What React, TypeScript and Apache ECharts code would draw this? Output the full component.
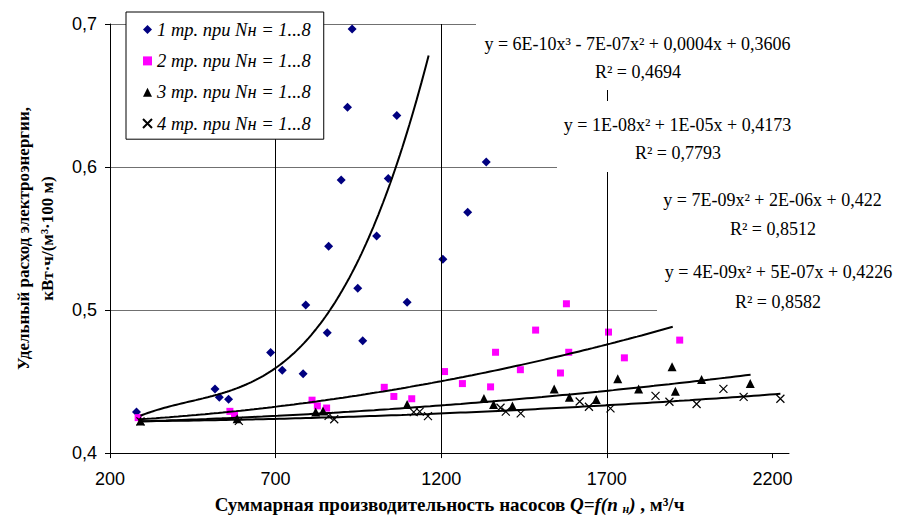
import React, { useEffect, useRef } from 'react';
import * as echarts from 'echarts';

// ---------- data ----------
const seriesNames = [
  '1 тр. при Nн = 1...8',
  '2 тр. при Nн = 1...8',
  '3 тр. при Nн = 1...8',
  '4 тр. при Nн = 1...8',
];

const s1X = [280, 517, 530, 558, 685, 720, 783, 791, 856, 860, 898, 917, 931, 948, 963, 1005, 1040, 1066, 1097, 1205, 1280, 1336];
const s1Y = [0.4287, 0.4449, 0.4391, 0.4377, 0.4703, 0.458, 0.4555, 0.5035, 0.4841, 0.5446, 0.591, 0.6418, 0.6965, 0.5153, 0.4786, 0.5518, 0.592, 0.636, 0.5054, 0.5356, 0.5684, 0.6035];

const s2X = [285, 562, 576, 810, 826, 854, 1028, 1057, 1111, 1210, 1264, 1349, 1364, 1439, 1485, 1560, 1578, 1585, 1705, 1753, 1920];
const s2Y = [0.4248, 0.4292, 0.4265, 0.437, 0.433, 0.4315, 0.446, 0.4396, 0.438, 0.457, 0.4486, 0.4463, 0.4705, 0.4583, 0.486, 0.456, 0.5044, 0.4705, 0.4846, 0.4666, 0.479];

const s3X = [292, 584, 821, 843, 1097, 1329, 1358, 1415, 1541, 1587, 1668, 1733, 1796, 1897, 1907, 1986, 2133];
const s3Y = [0.4225, 0.424, 0.4287, 0.4294, 0.434, 0.4382, 0.434, 0.4329, 0.4449, 0.4391, 0.4375, 0.452, 0.4449, 0.4604, 0.4433, 0.4514, 0.4486];

const s4X = [292, 589, 860, 877, 1117, 1135, 1160, 1379, 1395, 1440, 1618, 1646, 1711, 1847, 1889, 1971, 2052, 2113, 2224];
const s4Y = [0.4222, 0.4225, 0.426, 0.4237, 0.4287, 0.429, 0.4258, 0.4317, 0.429, 0.4278, 0.4361, 0.4324, 0.4313, 0.44, 0.4359, 0.4343, 0.4449, 0.4393, 0.438];

// trendline polynomial coefficients (ascending powers of x) and x-ranges
const trend1Coef = [0.36527, 3.7218e-4, -7.1919e-7, 5.4261e-10];
const trend2Coef = [0.4206, 5.98e-6, 1.562e-8];
const trend3Coef = [0.4207, 3.52e-6, 5.842e-9];
const trend4Coef = [0.4218, 4.08e-7, 3.788e-9];
const trendRanges = [[292, 1162], [285, 1899], [292, 2134], [292, 2224]];

const trendEquations = [
  'y = 6E-10x³ - 7E-07x² + 0,0004x + 0,3606',
  'y = 1E-08x² + 1E-05x + 0,4173',
  'y = 7E-09x² + 2E-06x + 0,422',
  'y = 4E-09x² + 5E-07x + 0,4226',
];
const trendR2 = ['R² = 0,4694', 'R² = 0,7793', 'R² = 0,8512', 'R² = 0,8582'];

const xTicks = [200, 700, 1200, 1700, 2200];
const xGridLines = [700, 1200, 1700];

// ---------- helpers ----------
const zip = (xs: number[], ys: number[]) => xs.map((x, i) => [x, ys[i]]);
const poly = (c: number[], x: number) => c.reduce((s, k, i) => s + k * Math.pow(x, i), 0);
const trendPoints = (c: number[], r: number[]) => {
  const pts: number[][] = [];
  const n = 120;
  for (let i = 0; i <= n; i++) {
    const x = r[0] + ((r[1] - r[0]) * i) / n;
    pts.push([x, poly(c, x)]);
  }
  return pts;
};

const SERIF = '"Liberation Serif", "Times New Roman", serif';
const SANS = '"Liberation Sans", Arial, sans-serif';

const labelBoxes = [
  { x: 476, y: 18, w: 326, h: 72, c1: 637.5, y1: 44, c2: 638, y2: 72 },
  { x: 557, y: 101, w: 242, h: 71, c1: 677.5, y1: 125, c2: 678, y2: 153 },
  { x: 657, y: 179, w: 236, h: 68, c1: 772.5, y1: 200, c2: 773, y2: 229 },
  { x: 657, y: 251, w: 242, h: 70, c1: 778.5, y1: 272, c2: 778, y2: 302 },
];

export default function App() {
  const ref = useRef<HTMLDivElement>(null);

  useEffect(() => {
    document.body.style.margin = '0';
    if (!ref.current) return;
    const chart = echarts.init(ref.current, undefined, { renderer: 'svg' });

    const coefs = [trend1Coef, trend2Coef, trend3Coef, trend4Coef];

    const graphic: any[] = [];
    labelBoxes.forEach((b, i) => {
      graphic.push({
        type: 'group',
        z: 100,
        children: [
          { type: 'rect', z: 100, shape: { x: b.x, y: b.y, width: b.w, height: b.h }, style: { fill: '#fff' } },
          {
            type: 'text', z: 101, x: b.c1, y: b.y1,
            style: { text: trendEquations[i], font: `18px ${SERIF}`, fill: '#000', align: 'center', verticalAlign: 'middle', textAlign: 'center', textVerticalAlign: 'middle' },
          },
          {
            type: 'text', z: 101, x: b.c2, y: b.y2,
            style: { text: trendR2[i], font: `18px ${SERIF}`, fill: '#000', align: 'center', verticalAlign: 'middle', textAlign: 'center', textVerticalAlign: 'middle' },
          },
        ],
      });
    });

    const option: any = {
      animation: false,
      backgroundColor: '#fff',
      grid: { left: 110, right: 110, top: 24, bottom: 62.5, containLabel: false },
      legend: {
        show: true,
        orient: 'vertical',
        left: 126,
        top: 12,
        data: seriesNames,
        itemWidth: 9,
        itemHeight: 9,
        itemGap: 11.3,
        padding: [7.6, 13, 5.7, 14.5],
        backgroundColor: '#fff',
        borderColor: '#000',
        borderWidth: 1,
        borderRadius: 0,
        textStyle: { fontFamily: SERIF, fontStyle: 'italic', fontSize: 18.5, color: '#000', lineHeight: 20 },
        z: 50,
      },
      xAxis: {
        type: 'value',
        min: 200,
        max: 2250,
        interval: 500,
        name: 'Суммарная производительность насосов {i|Q=f(n }{s|н}{i|)} , м³/ч',
        nameLocation: 'middle',
        nameGap: 37,
        nameTextStyle: {
          fontFamily: SERIF, fontWeight: 'bold', fontSize: 19, color: '#000', lineHeight: 22,
          rich: {
            i: { fontFamily: SERIF, fontWeight: 'bold', fontStyle: 'italic', fontSize: 19, color: '#000', lineHeight: 22 },
            s: { fontFamily: SERIF, fontWeight: 'bold', fontStyle: 'italic', fontSize: 12, color: '#000', lineHeight: 12, verticalAlign: 'bottom' },
          },
        },
        axisLine: { show: true, onZero: false, lineStyle: { color: '#000', width: 1 } },
        axisTick: { show: true, inside: false, length: 5, lineStyle: { color: '#000' }, customValues: xTicks },
        axisLabel: {
          show: true, margin: 17, fontFamily: SANS, fontSize: 18, color: '#000', customValues: xTicks,
          formatter: (v: number) => String(v),
        },
        splitLine: { show: false },
      },
      yAxis: {
        type: 'value',
        min: 0.4,
        max: 0.7,
        interval: 0.1,
        name: 'Удельный расход электроэнергии,\nкВт·ч/(м³·100 м)',
        nameLocation: 'middle',
        nameRotate: 90,
        nameGap: 51,
        nameTextStyle: { fontFamily: SERIF, fontWeight: 'bold', fontSize: 17, color: '#000', lineHeight: 24 },
        axisLine: { show: true, onZero: false, lineStyle: { color: '#000', width: 1 } },
        axisTick: { show: true, inside: false, length: 5, lineStyle: { color: '#000' } },
        axisLabel: {
          margin: 13, fontFamily: SANS, fontSize: 18, color: '#000',
          formatter: (v: number) => v.toFixed(1).replace('.', ','),
        },
        splitLine: { show: true, lineStyle: { color: '#707070', width: 1 } },
      },
      series: [
        {
          name: seriesNames[0], type: 'scatter', data: zip(s1X, s1Y), symbol: 'diamond', symbolSize: 9,
          itemStyle: { color: '#000080', opacity: 1 }, z: 4,
        },
        {
          name: seriesNames[1], type: 'scatter', data: zip(s2X, s2Y), symbol: 'rect', symbolSize: 7,
          itemStyle: { color: '#FF00FF', opacity: 1 }, z: 4,
        },
        {
          name: seriesNames[2], type: 'scatter', data: zip(s3X, s3Y), symbol: 'triangle', symbolSize: 9,
          itemStyle: { color: '#000', opacity: 1 }, z: 4,
        },
        {
          name: seriesNames[3], type: 'scatter', data: zip(s4X, s4Y), symbol: 'path://M0,0L10,10M10,0L0,10', symbolSize: 8,
          itemStyle: { color: 'none', borderColor: '#000', borderWidth: 1.2, opacity: 1 }, z: 4,
        },
        ...coefs.map((c, i) => ({
          name: 'trend' + (i + 1),
          type: 'line',
          data: trendPoints(c, trendRanges[i]),
          showSymbol: false,
          symbol: 'none',
          silent: true,
          lineStyle: { color: '#000', width: 2 },
          z: 5,
          markLine: i === 0 ? {
            silent: true,
            symbol: ['none', 'none'],
            label: { show: false },
            lineStyle: { color: '#000', width: 1, type: 'solid' },
            emphasis: { disabled: true },
            data: xGridLines.map((v) => ({ xAxis: v })),
          } : undefined,
        })),
      ],
      graphic,
    };

    chart.setOption(option);
    return () => chart.dispose();
  }, []);

  return (
    <div
      ref={ref}
      style={{ position: 'absolute', left: 0, top: 0, width: 899, height: 520, background: '#fff' }}
    />
  );
}
